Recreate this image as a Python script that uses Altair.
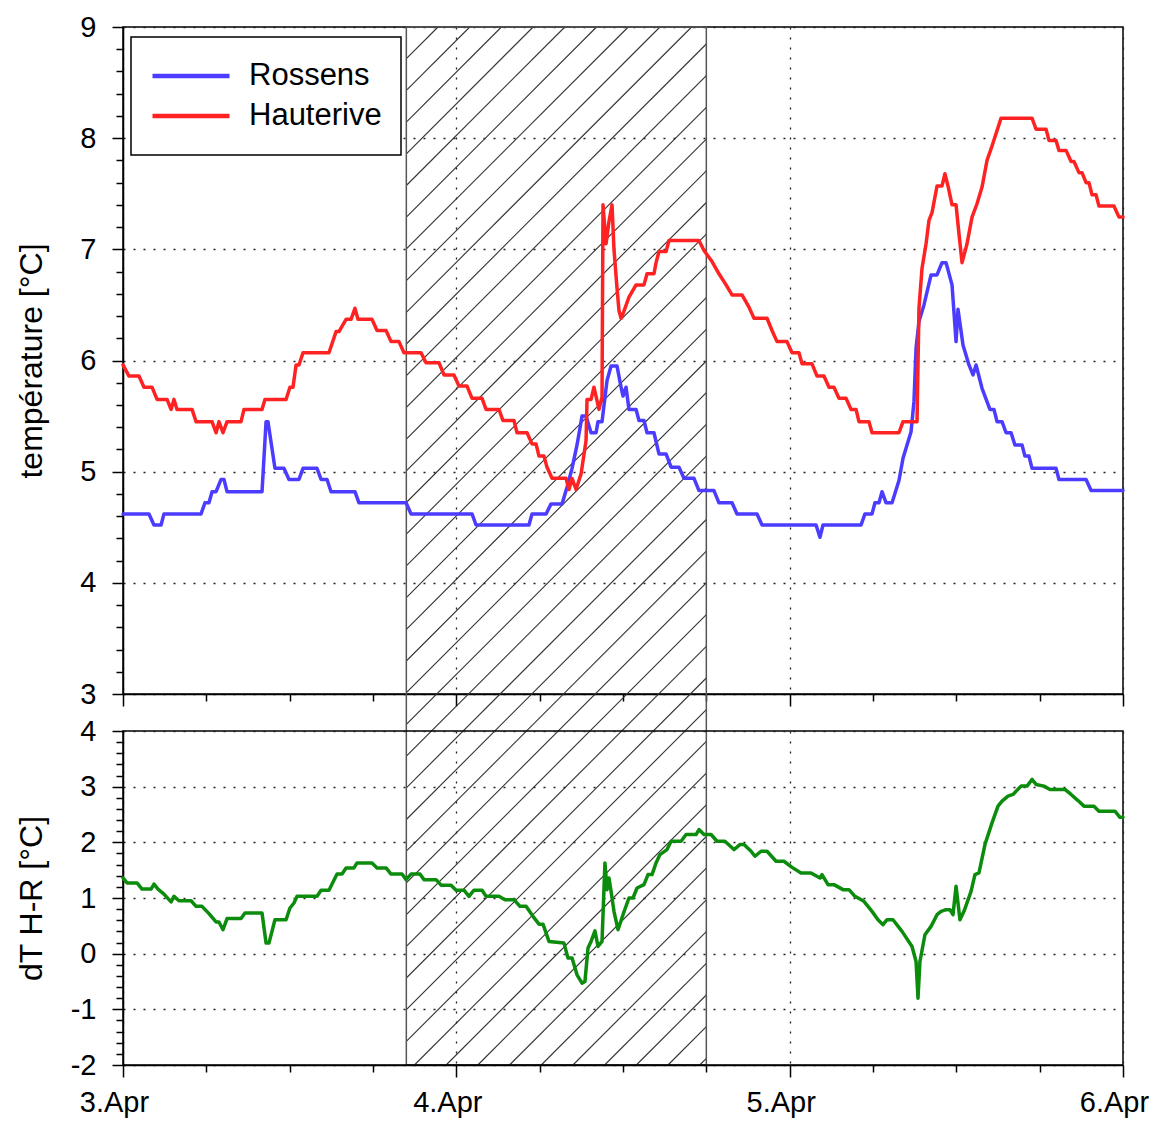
import json
import altair as alt
import pandas as pd

# ---------------- data (x = hours since 3.Apr 00:00) ----------------
SERIES = ["Rossens", "Hauterive"]
DAY_LABELS = ["3.Apr", "4.Apr", "5.Apr", "6.Apr"]

ROSSENS_H = [0.0, 1.87, 2.23, 2.74, 2.95, 5.62, 5.90, 6.19, 6.41, 6.70, 7.06, 7.27, 7.49, 10.01,
             10.30, 10.44, 10.94, 11.59, 11.95, 12.67, 12.96, 13.97, 14.26, 14.69, 14.98, 16.70,
             16.99, 20.38, 20.74, 25.13, 25.42, 29.23, 29.45, 30.46, 30.82, 31.61, 31.97, 32.33,
             32.69, 33.05, 33.34, 33.70, 34.06, 34.20, 34.49, 34.85, 35.14, 35.57, 35.86, 36.00,
             36.22, 36.43, 36.94, 37.15, 37.51, 37.73, 38.23, 38.59, 39.10, 39.46, 40.03, 40.39,
             41.11, 41.47, 42.55, 42.91, 43.85, 44.21, 45.65, 46.01, 49.90, 50.18, 50.40, 53.14,
             53.42, 53.93, 54.14, 54.43, 54.65, 54.94, 55.37, 55.87, 56.16, 56.45, 56.74, 56.95,
             57.10, 57.31, 57.67, 58.18, 58.61, 58.97, 59.26, 59.69, 59.98, 60.12, 60.48, 60.91,
             61.20, 61.42, 61.85, 62.42, 62.71, 62.93, 63.29, 63.58, 63.94, 64.22, 64.73, 64.94,
             65.23, 65.45, 67.18, 67.39, 69.34, 69.70, 72.0]
ROSSENS_T = [4.62, 4.62, 4.52, 4.52, 4.62, 4.62, 4.72, 4.72, 4.82, 4.82, 4.93, 4.93, 4.82, 4.82,
             5.45, 5.45, 5.03, 5.03, 4.93, 4.93, 5.03, 5.03, 4.93, 4.93, 4.82, 4.82,
             4.72, 4.72, 4.62, 4.62, 4.52, 4.52, 4.62, 4.62, 4.71, 4.71, 4.86, 5.03,
             5.24, 5.50, 5.50, 5.35, 5.35, 5.45, 5.45, 5.82, 5.95, 5.95, 5.76, 5.68,
             5.76, 5.56, 5.56, 5.46, 5.46, 5.35, 5.35, 5.16, 5.16, 5.04, 5.04, 4.94,
             4.94, 4.83, 4.83, 4.72, 4.72, 4.62, 4.62, 4.52, 4.52, 4.41, 4.52, 4.52,
             4.62, 4.62, 4.72, 4.72, 4.82, 4.72, 4.72, 4.92, 5.12, 5.24, 5.36, 5.63,
             6.11, 6.35, 6.50, 6.77, 6.77, 6.88, 6.88, 6.68, 6.17, 6.46, 6.14, 5.96,
             5.87, 5.96, 5.75, 5.56, 5.56, 5.45, 5.45, 5.35, 5.35, 5.24, 5.24, 5.14,
             5.14, 5.03, 5.03, 4.93, 4.93, 4.83, 4.83]

HAUTERIVE_H = [0.0, 0.43, 1.15, 1.51, 2.09, 2.45, 3.17, 3.46, 3.67, 3.89, 4.97, 5.26, 6.41, 6.70,
               6.91, 7.20, 7.49, 8.50, 8.71, 10.01, 10.22, 11.74, 12.02, 12.24, 12.46, 12.67,
               12.96, 14.83, 15.34, 15.55, 16.06, 16.42, 16.70, 16.92, 17.93, 18.29, 18.94,
               19.30, 19.87, 20.23, 21.46, 21.82, 22.75, 23.11, 23.83, 24.19, 24.77, 25.13,
               25.85, 26.14, 27.07, 27.36, 28.15, 28.37, 29.09, 29.45, 29.74, 29.95, 30.31,
               30.53, 30.89, 31.90, 32.11, 32.33, 32.62, 32.98, 33.34, 33.41, 33.70, 33.91,
               34.27, 34.49, 34.56, 34.78, 34.99, 35.21, 35.35, 35.57, 35.71, 35.86, 36.00,
               36.43, 36.94, 37.51, 37.73, 38.23, 38.38, 38.59, 39.10, 39.31, 41.47, 41.83,
               42.41, 42.91, 43.42, 43.85, 44.57, 45.07, 45.43, 46.37, 46.73, 47.09, 47.81,
               48.17, 48.67, 48.89, 49.61, 49.97, 50.47, 50.83, 51.19, 51.55, 52.06, 52.42,
               52.78, 52.99, 53.71, 53.93, 55.87, 56.16, 57.17, 57.31, 57.53, 57.82, 58.03,
               58.25, 58.61, 58.97, 59.18, 59.40, 59.69, 59.98, 60.19, 60.41, 60.77, 61.13,
               61.49, 61.85, 62.21, 62.57, 63.22, 65.45, 65.74, 66.46, 66.67, 67.18, 67.39,
               67.90, 68.26, 68.47, 68.83, 69.05, 69.34, 69.55, 69.77, 70.06, 70.27, 71.35,
               71.71, 72.0]
HAUTERIVE_T = [5.96, 5.86, 5.86, 5.76, 5.76, 5.65, 5.65, 5.56, 5.65, 5.56, 5.56, 5.45, 5.45, 5.35,
               5.45, 5.35, 5.45, 5.45, 5.56, 5.56, 5.65, 5.65, 5.76, 5.76, 5.96, 5.96,
               6.07, 6.07, 6.26, 6.26, 6.37, 6.37, 6.47, 6.37, 6.37, 6.27, 6.27,
               6.17, 6.17, 6.07, 6.07, 5.98, 5.98, 5.87, 5.87, 5.77, 5.77, 5.66,
               5.66, 5.56, 5.56, 5.46, 5.46, 5.35, 5.35, 5.25, 5.25, 5.14, 5.14,
               5.04, 4.94, 4.94, 4.84, 4.94, 4.84, 4.98, 5.28, 5.65, 5.65, 5.76,
               5.56, 5.67, 7.40, 7.05, 7.25, 7.40, 7.00, 6.65, 6.45, 6.38, 6.42,
               6.57, 6.68, 6.68, 6.78, 6.78, 6.88, 6.98, 6.98, 7.08, 7.08, 6.99,
               6.89, 6.78, 6.68, 6.59, 6.59, 6.48, 6.38, 6.38, 6.27, 6.17, 6.17,
               6.07, 6.07, 5.97, 5.97, 5.86, 5.86, 5.76, 5.76, 5.66, 5.66, 5.56,
               5.56, 5.45, 5.45, 5.35, 5.35, 5.45, 5.45, 6.47, 6.83, 7.05, 7.26,
               7.33, 7.57, 7.57, 7.68, 7.57, 7.40, 7.40, 7.14, 6.88, 7.05, 7.29,
               7.41, 7.56, 7.80, 7.93, 8.18, 8.18, 8.08, 8.08, 7.98, 7.98, 7.89,
               7.89, 7.79, 7.79, 7.69, 7.69, 7.60, 7.60, 7.49, 7.49, 7.39, 7.39,
               7.29, 7.29]

DT_H = [0.0, 0.29, 1.01, 1.37, 2.02, 2.23, 2.52, 2.95, 3.46, 3.67, 4.03, 4.90, 5.26, 5.69, 6.19,
        6.70, 6.91, 7.20, 7.49, 8.50, 8.78, 10.01, 10.30, 10.51, 10.94, 11.74, 12.02, 12.31,
        12.53, 13.97, 14.26, 14.83, 15.41, 15.77, 16.06, 16.63, 16.85, 17.93, 18.29, 18.94,
        19.30, 20.09, 20.38, 20.74, 21.38, 21.67, 22.54, 22.90, 23.62, 23.98, 24.55, 24.91,
        25.27, 25.85, 26.14, 27.07, 27.50, 28.15, 28.58, 29.02, 29.52, 29.95, 30.24, 30.67,
        31.75, 32.04, 32.33, 32.69, 33.05, 33.26, 33.48, 33.70, 33.98, 34.20, 34.49, 34.70,
        34.85, 34.99, 35.14, 35.35, 35.64, 36.00, 36.43, 36.72, 37.01, 37.51, 37.80, 38.09,
        38.38, 38.66, 39.17, 39.46, 40.18, 40.54, 41.26, 41.47, 41.83, 42.34, 42.77, 43.34,
        43.99, 44.42, 44.71, 45.22, 45.50, 45.94, 46.37, 47.02, 47.59, 48.17, 48.82, 49.54,
        50.18, 50.33, 50.76, 51.19, 51.84, 52.27, 52.70, 53.35, 53.93, 54.36, 54.72, 55.01,
        55.44, 56.09, 56.81, 57.10, 57.24, 57.38, 57.74, 58.18, 58.61, 58.90, 59.26, 59.54,
        59.76, 59.98, 60.26, 60.55, 61.06, 61.34, 61.63, 62.06, 62.57, 63.00, 63.29, 63.72,
        64.08, 64.66, 65.09, 65.45, 65.74, 66.31, 66.74, 67.82, 68.26, 68.76, 69.19, 69.91,
        70.27, 71.42, 71.78, 72.0]
DT_V = [1.36, 1.27, 1.27, 1.16, 1.16, 1.25, 1.16, 1.07, 0.93, 1.03, 0.95, 0.95, 0.85, 0.85, 0.72,
        0.57, 0.57, 0.43, 0.63, 0.63, 0.73, 0.73, 0.19, 0.19, 0.61, 0.61, 0.82, 0.91,
        1.03, 1.03, 1.14, 1.14, 1.43, 1.43, 1.54, 1.54, 1.63, 1.63, 1.54, 1.54,
        1.43, 1.43, 1.33, 1.43, 1.43, 1.33, 1.33, 1.23, 1.23, 1.14, 1.14, 1.03,
        1.14, 1.14, 1.03, 1.03, 0.97, 0.97, 0.85, 0.85, 0.67, 0.53, 0.53, 0.22,
        0.19, -0.08, -0.08, -0.38, -0.53, -0.50, 0.10, 0.22, 0.41, 0.13, 0.22, 1.63,
        1.15, 1.36, 1.12, 0.76, 0.43, 0.70, 1.00, 1.00, 1.18, 1.24, 1.42, 1.42,
        1.63, 1.78, 1.87, 2.02, 2.02, 2.14, 2.14, 2.23, 2.14, 2.14, 2.02, 2.02,
        1.87, 1.96, 1.96, 1.84, 1.75, 1.84, 1.84, 1.66, 1.66, 1.55, 1.45, 1.45,
        1.36, 1.42, 1.24, 1.24, 1.15, 1.15, 1.03, 0.94, 0.76, 0.61, 0.52, 0.61,
        0.61, 0.40, 0.13, -0.14, -0.80, -0.14, 0.34, 0.49, 0.70, 0.76, 0.79, 0.79,
        0.70, 1.21, 0.61, 0.76, 1.12, 1.42, 1.45, 1.96, 2.35, 2.65, 2.74, 2.83,
        2.86, 3.01, 3.01, 3.13, 3.04, 3.01, 2.95, 2.95, 2.86, 2.75, 2.65, 2.65,
        2.56, 2.56, 2.45, 2.45]

HATCH_START_H = 20.4   # 3.Apr ~20:24
HATCH_END_H = 42.0     # 4.Apr 18:00
X_DOMAIN = [0, 72]
TEMP_DOMAIN = [3, 9]
DT_DOMAIN = [-2, 4]

# ---------------- style / layout ----------------
W, H_TOP, H_BOT, GAP = 1000, 667, 334, 37
BLUE, RED, GREEN = "#4b3cff", "#ff2222", "#0c8c0c"
FONT = "Liberation Sans"
XLABEL_FS, YLABEL_FS, TITLE_FS, LEGEND_FS = 29, 29, 32, 31
HATCH_STEP = 31.7  # px between hatch lines (45 degrees)
LINE_W = 3.5

temp_df = pd.concat([
    pd.DataFrame({"h": ROSSENS_H, "T": ROSSENS_T, "series": SERIES[0]}),
    pd.DataFrame({"h": HAUTERIVE_H, "T": HAUTERIVE_T, "series": SERIES[1]}),
])
dt_df = pd.DataFrame({"h": DT_H, "dT": DT_V})

# hatch lines, expressed in the top panel's data units, reaching through the gap to the lower panel
def h_of(px):
    return px * (X_DOMAIN[1] - X_DOMAIN[0]) / W + X_DOMAIN[0]

def t_of(py):
    return TEMP_DOMAIN[1] - py * (TEMP_DOMAIN[1] - TEMP_DOMAIN[0]) / H_TOP

y_bot = H_TOP + GAP + H_BOT
x0 = (HATCH_START_H - X_DOMAIN[0]) * W / (X_DOMAIN[1] - X_DOMAIN[0])
x1 = (HATCH_END_H - X_DOMAIN[0]) * W / (X_DOMAIN[1] - X_DOMAIN[0])
rows = []
c = x0 + HATCH_STEP
while c < x1 + y_bot:
    pa = min(x1, c)
    pb = max(x0, c - y_bot)
    if pa > pb:
        rows.append({"h": h_of(pa), "t": t_of(c - pa), "h2": h_of(pb), "t2": t_of(c - pb)})
    c += HATCH_STEP
hatch_df = pd.DataFrame(rows)
box_df = pd.DataFrame([{"h": HATCH_START_H, "h2": HATCH_END_H, "t": TEMP_DOMAIN[1], "t2": t_of(y_bot)}])

# ---------------- axes ----------------
x_ticks = list(range(0, 73, 6))
x_major = "datum.value % 24 == 0"
x_label_expr = f"datum.value % 24 == 0 ? {json.dumps(DAY_LABELS)}[datum.value / 24] : ''"
y_major = "abs(datum.value - round(datum.value)) < 0.001"

def cond(test, a, b):
    return {"condition": {"test": test, "value": a}, "value": b}

common_axis = dict(
    domainColor="black", domainWidth=1.5, tickColor="black", tickWidth=1.5,
    gridColor="#222", gridWidth=1.3, gridDash=[2, 8],
    labelFont=FONT, labelColor="black",
    labelOverlap=False, labelFlush=False, labelBound=False,
    titleFont=FONT, titleFontSize=TITLE_FS, titleColor="black", titleFontWeight="normal",
)

top_x_axis = alt.Axis(values=x_ticks, labels=False, title=None, grid=True, labelFontSize=XLABEL_FS,
                      tickSize=cond(x_major, 12, 7), gridOpacity=cond(x_major, 1, 0), **common_axis)
bot_x_axis = alt.Axis(values=x_ticks, labelExpr=x_label_expr, title=None, grid=True,
                      labelFontSize=XLABEL_FS, labelPadding=11, labelOffset=-9,
                      tickSize=cond(x_major, 12, 7), gridOpacity=cond(x_major, 1, 0), **common_axis)

def y_axis(domain, title, panel_h):
    vals = [round(domain[0] + 0.2 * i, 1) for i in range(int(round((domain[1] - domain[0]) / 0.2)) + 1)]
    return alt.Axis(values=vals, labelExpr=f"{y_major} ? '' + round(datum.value) : ''",
                    labelFontSize=YLABEL_FS,
                    tickSize=cond(y_major, 11, 7), gridOpacity=cond(y_major, 1, 0), grid=True,
                    labelPadding=16, title=title, titleAngle=-90, titleX=-82, titleY=panel_h / 2,
                    titleAlign="center", titleBaseline="alphabetic", **common_axis)

top_y_axis = y_axis(TEMP_DOMAIN, "température [°C]", H_TOP)
bot_y_axis = y_axis(DT_DOMAIN, "dT H-R [°C]", H_BOT)

x_scale = alt.Scale(domain=X_DOMAIN, nice=False, zero=False)
temp_scale = alt.Scale(domain=TEMP_DOMAIN, nice=False, zero=False)
dt_scale = alt.Scale(domain=DT_DOMAIN, nice=False, zero=False)

legend = alt.Legend(title=None, orient="none", legendX=8, legendY=10,
                    strokeColor="black", fillColor="white", padding=19,
                    symbolType="stroke", symbolSize=5929, symbolStrokeWidth=4.5,
                    clipHeight=40, rowPadding=0,
                    labelFont=FONT, labelFontSize=LEGEND_FS, labelColor="black",
                    labelOffset=17)

hatch_lines = alt.Chart(hatch_df).mark_rule(color="#333", strokeWidth=1.1).encode(
    x=alt.X("h:Q", scale=x_scale, axis=top_x_axis),
    x2="h2:Q",
    y=alt.Y("t:Q", scale=temp_scale, axis=top_y_axis),
    y2="t2:Q",
)
hatch_box = alt.Chart(box_df).mark_rect(fillOpacity=0, stroke="#555", strokeWidth=1.5).encode(
    x=alt.X("h:Q", scale=x_scale, axis=top_x_axis),
    x2="h2:Q",
    y=alt.Y("t:Q", scale=temp_scale, axis=top_y_axis),
    y2="t2:Q",
)
temp_lines = alt.Chart(temp_df).mark_line(strokeWidth=LINE_W, strokeJoin="round", strokeCap="round").encode(
    x=alt.X("h:Q", scale=x_scale, axis=top_x_axis),
    y=alt.Y("T:Q", scale=temp_scale, axis=top_y_axis),
    color=alt.Color("series:N", scale=alt.Scale(domain=SERIES, range=[BLUE, RED]), legend=legend),
)
top = alt.layer(hatch_lines, hatch_box, temp_lines).properties(width=W, height=H_TOP)

bottom = alt.Chart(dt_df).mark_line(color=GREEN, strokeWidth=LINE_W, strokeJoin="round", strokeCap="round").encode(
    x=alt.X("h:Q", scale=x_scale, axis=bot_x_axis),
    y=alt.Y("dT:Q", scale=dt_scale, axis=bot_y_axis),
).properties(width=W, height=H_BOT)

chart = alt.vconcat(top, bottom, spacing=GAP, bounds="flush").resolve_scale(
    y="independent"
).properties(
    padding={"left": 6, "top": 4, "right": -1, "bottom": 2}
).configure(font=FONT).configure_view(
    stroke="black", strokeWidth=1.5
).configure_legend(strokeWidth=1.5)

chart.save("out.html", embed_options={"renderer": "svg", "actions": False})
